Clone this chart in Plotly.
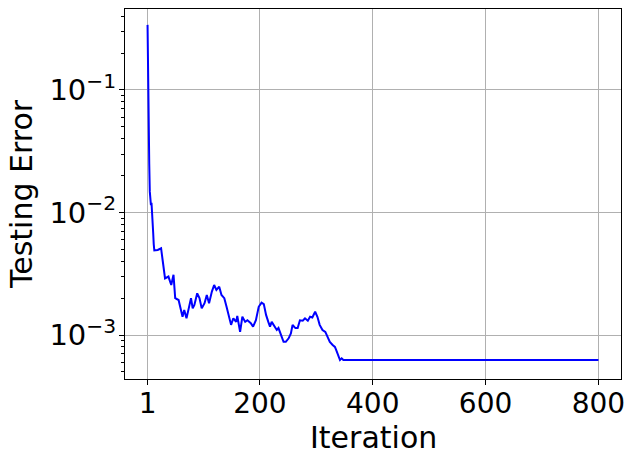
import plotly.graph_objects as go

iterations = [1, 2, 3, 4, 5, 6, 7, 8, 9, 10, 11, 12, 13,
              19, 25, 28, 32, 38, 43, 47, 50, 56, 60,
              63, 66, 70, 74, 78, 81, 84, 89, 93, 97,
              102, 106, 110, 115, 119, 123, 128, 132, 137, 141,
              145, 149, 153, 158, 160, 165, 169, 174, 178, 184,
              188, 193, 198, 203, 207, 211, 215, 218, 221, 226,
              230, 233, 237, 242, 246, 251, 255, 258, 263, 267,
              271, 276, 280, 285, 289, 293, 298, 302, 306, 311,
              316, 320, 324, 329, 333, 335, 339, 342, 345, 348,
              800]
errors = [0.34, 0.10, 0.045, 0.025, 0.0148, 0.0135, 0.0115, 0.0120, 0.0105, 0.0085, 0.0068, 0.0055, 0.0049,
          0.00495, 0.0051, 0.0040, 0.0029, 0.0030, 0.00256, 0.0031, 0.0020, 0.00193, 0.0016,
          0.00141, 0.0016, 0.00137, 0.00165, 0.0020, 0.00165, 0.00176, 0.00219, 0.0020, 0.00165,
          0.00182, 0.00212, 0.00182, 0.00226, 0.00256, 0.00233, 0.00248, 0.00212, 0.0020, 0.0017,
          0.00146, 0.00121, 0.00137, 0.00128, 0.00143, 0.00106, 0.00141, 0.00128, 0.00132, 0.00125,
          0.00117, 0.00132, 0.0017, 0.00184, 0.00179, 0.00146, 0.00128, 0.00117, 0.00128, 0.00117,
          0.0011, 0.00114, 0.0010, 0.00088, 0.00088, 0.00094, 0.00103, 0.00121, 0.00114, 0.00114,
          0.00132, 0.00131, 0.00137, 0.00131, 0.00141, 0.00139, 0.00155, 0.00141, 0.00121, 0.0011,
          0.00106, 0.00097, 0.00088, 0.00083, 0.0008, 0.00076, 0.00069, 0.000625, 0.000645, 0.000625,
          0.000625]

x_tick_vals = [1, 200, 400, 600, 800]
x_tick_text = ["1", "200", "400", "600", "800"]
y_tick_vals = [1e-3, 1e-2, 1e-1]
y_tick_text = ["10<sup>\u22123</sup>", "10<sup>\u22122</sup>", "10<sup>\u22121</sup>"]
y_minor_vals = [k * 10.0 ** e for e in (-4, -3, -2, -1) for k in range(2, 10)]

FONT = "DejaVu Sans"

fig = go.Figure()
fig.add_trace(go.Scatter(x=iterations, y=errors, mode="lines",
                         line=dict(color="#0000ff", width=2), showlegend=False))

fig.update_layout(
    width=637, height=462,
    margin=dict(l=125, r=16, t=9, b=83),
    paper_bgcolor="white", plot_bgcolor="white",
    font=dict(family=FONT, size=28, color="black"),
    xaxis=dict(
        range=[-38.95, 839.95],
        tickvals=x_tick_vals, ticktext=x_tick_text,
        ticks="outside", ticklen=5, tickwidth=1, tickcolor="black",
        showgrid=True, gridcolor="#b0b0b0", gridwidth=1,
        showline=True, linecolor="black", linewidth=1, mirror=True,
        zeroline=False, automargin=False, ticklabelstandoff=-6,
        tickfont=dict(family=FONT, size=28),
    ),
    yaxis=dict(
        type="log",
        range=[-3.359, -0.339],
        tickvals=y_tick_vals, ticktext=y_tick_text,
        ticks="outside", ticklen=5, tickwidth=1, tickcolor="black",
        showgrid=True, gridcolor="#b0b0b0", gridwidth=1,
        showline=True, linecolor="black", linewidth=1, mirror=True,
        zeroline=False, automargin=False, ticklabelstandoff=-3,
        tickfont=dict(family=FONT, size=29),
        minor=dict(tickvals=y_minor_vals, ticks="outside", ticklen=3,
                   tickwidth=1, tickcolor="black", showgrid=False),
    ),
    annotations=[
        dict(text="Iteration", xref="paper", yref="paper", x=0.5, y=0,
             xanchor="center", yanchor="middle", yshift=-58, showarrow=False,
             font=dict(family=FONT, size=30, color="black")),
        dict(text="Testing Error", xref="paper", yref="paper", x=0, y=0.5,
             xanchor="center", yanchor="middle", xshift=-104, textangle=-90,
             showarrow=False, font=dict(family=FONT, size=30, color="black")),
    ],
)

fig.write_html("out.html", config={"displayModeBar": False},
               post_script="document.body.style.margin='0';")
